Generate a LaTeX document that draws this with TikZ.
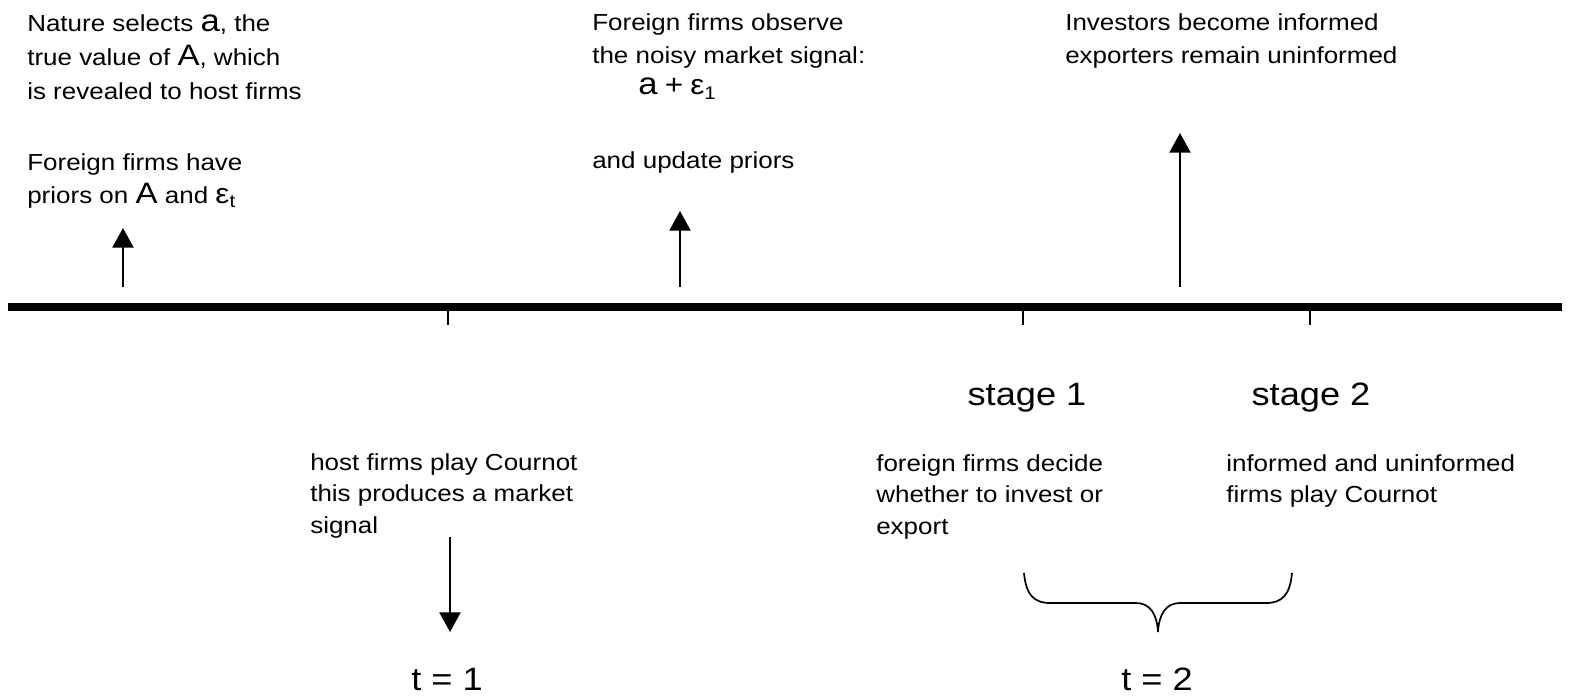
\documentclass[tikz,border=0pt]{standalone}
\usepackage{fontspec}
\setmainfont{Liberation Sans}[FakeStretch=1.12]
\usetikzlibrary{arrows.meta}

\newcommand{\biga}{{\fontsize{22}{22}\selectfont a}}
\newcommand{\bigA}{{\fontsize{21}{21}\selectfont A}}
\newcommand{\epsx}[1]{{\fontsize{20}{20}\selectfont ε}\raisebox{-0.35ex}{\fontsize{13}{13}\selectfont #1}}

\begin{document}
\begin{tikzpicture}[x=0.025cm,y=-0.025cm,
  note/.style={anchor=north west,align=left,inner sep=0pt,font=\fontsize{16.5}{23.5}\selectfont},
  big/.style={anchor=base,inner sep=0pt,font=\fontsize{23}{27}\selectfont},
  event/.style={-{Triangle[width=15pt,length=14pt]},line width=1.4pt},
  tick/.style={line width=1.4pt}]
\useasboundingbox (0,0) rectangle (1573,697);

\node[note] (A) at (27,14) {Nature selects \biga, the\\[1pt]true value of \bigA, which\\[1pt]is revealed to host firms};
\node[note] (B) at (27,153) {Foreign firms have\\priors on \bigA{} and \epsx{t}};
\node[note] (C) at (592,13) {Foreign firms observe\\the noisy market signal:};
\node[note] (D) at (638,78) {\biga{} {\fontsize{20}{20}\selectfont +} \epsx{1}};
\node[note] (E) at (592,151) {and update priors};
\node[note] (F) at (1065,13) {Investors become informed\\exporters remain uninformed};

\node[note] (G) at (310,453) {host firms play Cournot\\[-1pt]this produces a market\\[-1pt]signal};
\node[note] (H) at (876,454) {foreign firms decide\\[-1pt]whether to invest or\\[-1pt]export};
\node[note] (I) at (1226,454) {informed and uninformed\\[-1pt]firms play Cournot};

\node[big] (S1) at (1027,405) {stage 1};
\node[big] (S2) at (1311,405) {stage 2};
\node[big] (T1) at (447,690) {t = 1};
\node[big] (T2) at (1157,690) {t = 2};

\draw[line width=5pt] (8,307) -- (1562,307);
\draw[tick] (448,311) -- (448,325);
\draw[tick] (1023,311) -- (1023,325);
\draw[tick] (1310,311) -- (1310,325);

\coordinate (a1) at (123,287);
\coordinate (a1t) at (123,228);
\coordinate (a2) at (680,287);
\coordinate (a2t) at (680,211);
\coordinate (a3) at (1180,287);
\coordinate (a3t) at (1180,133);
\coordinate (a4) at (450,537);
\coordinate (a4t) at (450,632);

\draw[event] (a1) -- (a1t);
\draw[event] (a2) -- (a2t);
\draw[event] (a3) -- (a3t);
\draw[event] (a4) -- (a4t);

\coordinate (bl) at (1024,573);
\coordinate (br) at (1292,573);
\coordinate (bt) at (1158,632);
\draw[line width=1.2pt] (bl) .. controls (1026,595) and (1034,603) .. (1050,603)
  -- (1136,603) .. controls (1150,603) and (1157,614) .. (bt)
  .. controls (1159,614) and (1166,603) .. (1180,603)
  -- (1266,603) .. controls (1282,603) and (1290,595) .. (br);
\end{tikzpicture}
\end{document}
